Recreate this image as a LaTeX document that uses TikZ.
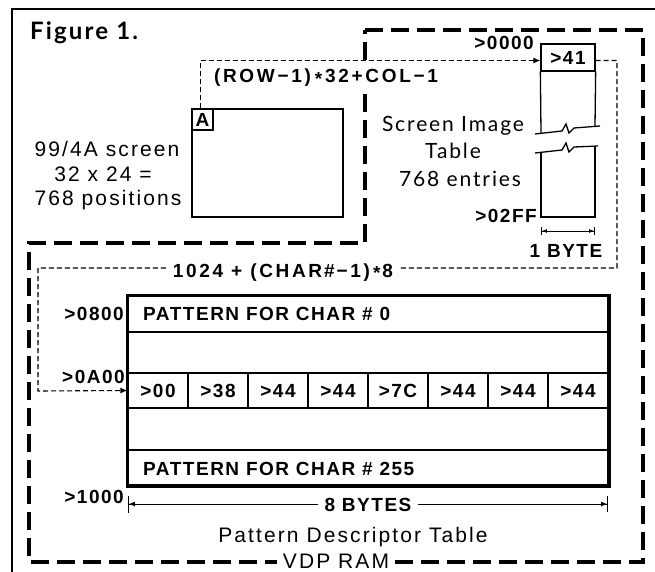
\documentclass[tikz,border=0pt]{standalone}
\usepackage{fontspec}
\setmainfont{Liberation Sans}[LetterSpace=10]
\newfontfamily\hb{Liberation Sans Bold}[LetterSpace=8]
\newfontfamily\hbw{Liberation Sans Bold}[LetterSpace=14]
\newfontfamily\optfont{Lato}[LetterSpace=9]
\usetikzlibrary{arrows.meta}
\tikzset{
  thickdash/.style={line width=4pt, dash pattern=on 18pt off 8pt},
  thindash/.style={line width=1.1pt, dash pattern=on 5pt off 3pt},
  arr/.style={-{Latex[length=7pt,width=6pt]}},
  lbl/.style={font=\fontsize{19}{21}\selectfont\hb, inner sep=0pt},
  formula/.style={font=\fontsize{19}{21}\selectfont\hbw, inner sep=0pt},
  big/.style={font=\fontsize{21}{24}\selectfont, inner sep=0pt},
  opt/.style={font=\fontsize{21}{24}\selectfont\optfont, inner sep=0pt},
  cell/.style={draw, line width=1.2pt, minimum width=60pt, minimum height=35pt, inner sep=0pt,
    font=\fontsize{19}{21}\selectfont\hb},
  dimA/.style={line width=0.9pt, {Bar[width=8pt]Latex[length=5pt,width=4pt]}-{Latex[length=5pt,width=4pt]Bar[width=8pt]}},
  dimB/.style={line width=0.9pt, {Bar[width=17pt]Latex[length=6pt,width=5pt]}-{Latex[length=6pt,width=5pt]Bar[width=16pt]}},
}
\begin{document}
\begin{tikzpicture}[x=1pt,y=-1pt]
\useasboundingbox[fill=white] (0,0) rectangle (655,572);
% outer frame
\draw[line width=1.5pt] (12,572) -- (12,9) -- (655,9);
\node[font=\fontsize{24}{26}\selectfont\optfont\bfseries, inner sep=0pt, anchor=base west] (fig) at (30,40) {Figure 1.};
% VDP RAM region
\draw[thickdash] (365,30) -- (643,30) -- (643,562) -- (29,562) -- (29,243) -- (365,243) -- cycle;
\node[big, fill=white, inner xsep=6pt, inner ysep=0.5pt, anchor=base] (vdp) at (336,568) {VDP RAM};
% screen
\node[draw, line width=1.5pt, minimum width=151pt, minimum height=108pt, inner sep=0pt] (scr) at (267.5,163) {};
\node[draw, line width=1.5pt, minimum size=21pt, inner sep=0pt, anchor=north west, font=\fontsize{19}{21}\selectfont\hb] (abox) at (scr.north west) {A};
\node[big, anchor=base] (s1) at (107,157) {99/4A screen};
\node[big, anchor=base] (s2) at (103,182) {32 x 24 =};
\node[big, anchor=base] (s3) at (108,205) {768 positions};
% screen image table
\node[draw, line width=1.3pt, minimum width=54pt, minimum height=27pt, inner sep=0pt, font=\fontsize{19}{21}\selectfont\hb] (b41) at (568,57.5) {>41};
\draw[line width=1.3pt] (b41.south west) -- (541,133);
\draw[line width=1.3pt] (b41.south east) -- (595,126);
\draw[line width=1.3pt] (535,134) -- (562,131) -- (566,124) -- (569,133) -- (574,128) -- (600,126);
\draw[line width=1.3pt] (535,153) -- (562,150) -- (566,143) -- (569,152) -- (574,147) -- (598,146);
\draw[line width=1.3pt] (541,152) -- (541,217) -- (595,217) -- (595,146);
\node[lbl, anchor=base east] (a0000) at (534,50) {>0000};
\node[lbl, anchor=base east] (a02ff) at (537,222) {>02FF};
\node[opt, anchor=base] (t1) at (453,132) {Screen Image};
\node[opt, anchor=base] (t2) at (453,159) {Table};
\node[opt, anchor=base] (t3) at (460,186) {768 entries};
\coordinate (bl) at (541,231);
\coordinate (br) at (595,231);
\draw[dimA] (bl) -- (br);
\node[lbl, anchor=base] (onebyte) at (566,257) {1 BYTE};
% pattern table
\node[draw, line width=2.5pt, minimum width=480pt, minimum height=189pt, inner sep=0pt] (pt) at (368,390.5) {};
\draw[line width=1.2pt] (128,332) -- (608,332);
\draw[line width=1.2pt] (128,450) -- (608,450);
\node[cell] (c1) at (158,390.5) {>00};
\node[cell] (c2) at (218,390.5) {>38};
\node[cell] (c3) at (278,390.5) {>44};
\node[cell] (c4) at (338,390.5) {>44};
\node[cell] (c5) at (398,390.5) {>7C};
\node[cell] (c6) at (458,390.5) {>44};
\node[cell] (c7) at (518,390.5) {>44};
\node[cell] (c8) at (578,390.5) {>44};
\draw[line width=2.5pt] (pt.north west) rectangle (pt.south east);
\node[lbl, anchor=base west] (p0) at (143,320) {PATTERN FOR CHAR \# 0};
\node[lbl, anchor=base west] (p255) at (143,475) {PATTERN FOR CHAR \# 255};
\node[lbl, anchor=base east] (a0800) at (124,320) {>0800};
\node[lbl, anchor=base east] (a0a00) at (125,383) {>0A00};
\node[lbl, anchor=base east] (a1000) at (124,503) {>1000};
\coordinate (dl) at (128,504);
\coordinate (dr) at (608,504);
\draw[dimB] (dl) -- (dr);
\node[lbl, fill=white, inner xsep=7pt, inner ysep=2pt, anchor=base] (eight) at (368,511) {8 BYTES};
\node[big, anchor=base] (pdt) at (353,542) {Pattern Descriptor Table};
% connectors
\draw[thindash, arr] ([xshift=9pt]scr.north west) |- ([yshift=-3pt]b41.west);
\node[formula, fill=white, inner xsep=2pt, inner ysep=1pt, anchor=base] (f1) at (326,83) {(ROW−1)\hspace{4pt}\raisebox{-0.25ex}{*}\hspace{3pt}32+COL−1};
\draw[thindash, arr] ([yshift=-3pt]b41.east) -| (617,268) -| (38,391) -- (c1.west);
\node[formula, fill=white, inner xsep=6pt, inner ysep=2pt, anchor=base] (f2) at (283,277) {1024\hspace{8pt}+\hspace{8pt}(CHAR\hspace{2pt}\#\hspace{2pt}−1)\hspace{3pt}\raisebox{-0.25ex}{*}\hspace{2pt}8};
\end{tikzpicture}
\end{document}
